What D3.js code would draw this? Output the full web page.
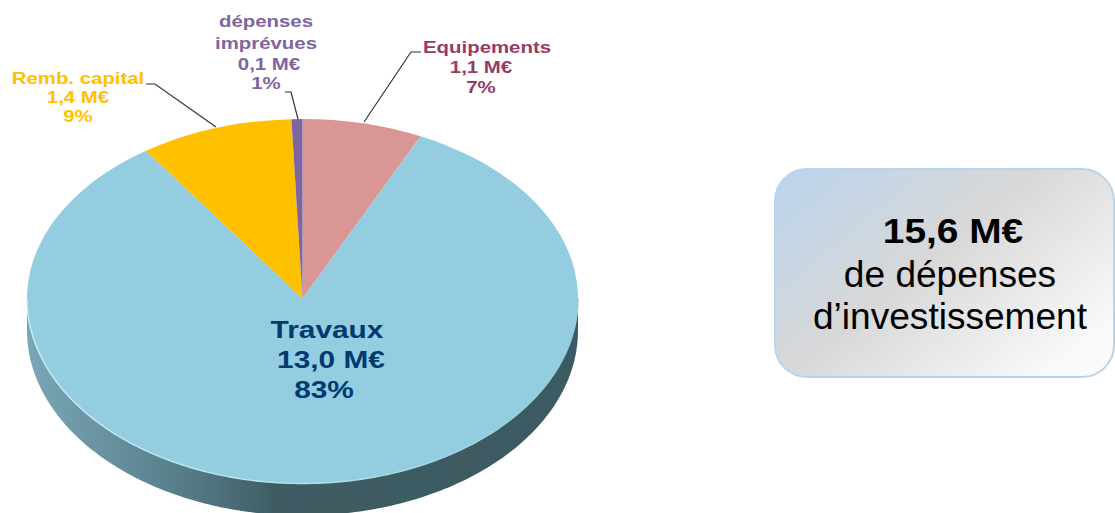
<!DOCTYPE html>
<html><head><meta charset="utf-8">
<script src="https://cdn.jsdelivr.net/npm/d3@7"></script>
<style>html,body{margin:0;background:#fff}svg{display:block}text{font-family:"Liberation Sans",Arial,sans-serif}</style>
</head><body><svg id="c" width="1115" height="513"></svg>
<script>
const categories = ["Equipements","Travaux","Remb. capital","dépenses imprévues"];
const values = [1.1,13.0,1.4,0.1];
const amountLabels = ["1,1 M€","13,0 M€","1,4 M€","0,1 M€"];
const percentLabels = ["7%","83%","9%","1%"];
const colors = ["#d99694","#93cddf","#ffc000","#8064a2"];
const totalLabel = "15,6 M€";
const boxLines = ["de dépenses","d’investissement"];

const svg = d3.select("#c");
const cx=302.5, cy=298.5, rx=275.5, ryTop=179.5, ryBot=185, depth=32;
const defs = svg.append("defs");
const sg = defs.append("linearGradient").attr("id","side").attr("gradientUnits","userSpaceOnUse")
  .attr("x1",cx-rx).attr("x2",cx+rx).attr("y1",0).attr("y2",0);
[[0,"#7ba6b6"],[0.12,"#6b95a5"],[0.3,"#557a86"],[0.45,"#3f5c63"],[1,"#3c5a61"]]
  .forEach(s=>sg.append("stop").attr("offset",s[0]).attr("stop-color",s[1]));
const hg = defs.append("linearGradient").attr("id","rim").attr("gradientUnits","userSpaceOnUse")
  .attr("x1",cx-rx).attr("x2",cx+rx).attr("y1",0).attr("y2",0);
[[0,"#c4f1f8"],[0.55,"#aee0ec"],[1,"#93cddf"]]
  .forEach(s=>hg.append("stop").attr("offset",s[0]).attr("stop-color",s[1]));
const bg = defs.append("linearGradient").attr("id","box").attr("x1",0).attr("y1",0).attr("x2",1).attr("y2",0.75);
[[0.03,"#bcd4ec"],[0.5,"#d8d8d8"],[1,"#fafafa"]]
  .forEach(s=>bg.append("stop").attr("offset",s[0]).attr("stop-color",s[1]));
defs.append("clipPath").attr("id","upperHalf").append("rect").attr("x",0).attr("y",0).attr("width",1115).attr("height",cy+0.5);
defs.append("clipPath").attr("id","lowerHalf").append("rect").attr("x",0).attr("y",cy).attr("width",1115).attr("height",513-cy);

// side wall
const ang = d3.range(90,270.5,1).map(d=>d*Math.PI/180);
const sideLine = d3.line();
const lower = ang.map(a=>[cx+rx*Math.sin(a), cy-ryBot*Math.cos(a)+depth]);
const upper = ang.slice().reverse().map(a=>[cx+rx*Math.sin(a), cy-ryBot*Math.cos(a)]);
svg.append("path").attr("d",sideLine(lower.concat(upper))+"Z").attr("fill","url(#side)");

// top face, drawn in two halves because the perspective makes the near half deeper
const pie = d3.pie().sort(null).value(d=>d);
const arc = d3.arc().innerRadius(0).outerRadius(rx);
[["upperHalf",ryTop],["lowerHalf",ryBot]].forEach(([clip,ry])=>{
  const g = svg.append("g").attr("clip-path",`url(#${clip})`)
    .append("g").attr("transform",`translate(${cx},${cy}) scale(1,${ry/rx})`);
  g.selectAll("path").data(pie(values)).join("path").attr("d",arc).attr("fill",(d,i)=>colors[i]);
});
svg.append("path").attr("d",sideLine(upper)).attr("fill","none").attr("stroke","url(#rim)").attr("stroke-width",1.4);

// leaders
const leaders=[[[364,122],[411,52],[421,52]],[[216,127],[155,84],[146,84]],[[298,119],[291,92],[285,92]]];
svg.selectAll("path.l").data(leaders).join("path").attr("class","l").attr("d",d=>d3.line()(d))
  .attr("fill","none").attr("stroke","#333").attr("stroke-width",1.2);

function label(lines,x,ys,color,size,sx,weight){
  lines.forEach((t,i)=>{
    svg.append("text").attr("transform",`translate(${x[i]},${ys[i]}) scale(${sx[i]||sx[0]},1)`)
      .attr("text-anchor","middle").attr("font-size",size).attr("font-weight",weight[i]||weight[0])
      .attr("fill",color).text(t);
  });
}
const B=["bold"];
label([categories[0],amountLabels[0],percentLabels[0]],[487,481,481],[53,73,93],"#953b66",17,[1.2],B);
label([categories[2],amountLabels[2],percentLabels[2]],[78,78,78],[84,103,122],"#ffc000",17,[1.2],B);
label(["dépenses","imprévues",amountLabels[3],percentLabels[3]],[266,266,269,266],[27,49,70,89],"#8064a2",17,[1.2],B);
label(["Travaux",amountLabels[1],percentLabels[1]],[327,331,324],[338,368,398],"#003a70",23.5,[1.27],B);

// box
svg.append("rect").attr("x",775).attr("y",169).attr("width",339).attr("height",208).attr("rx",32)
  .attr("fill","url(#box)").attr("stroke","#b9d5ec").attr("stroke-width",2);
label([totalLabel,boxLines[0],boxLines[1]],[953,950,950],[243,287,329],"#000",36,[1.08,1.03,1.03],["bold","normal","normal"]);
</script></body></html>
